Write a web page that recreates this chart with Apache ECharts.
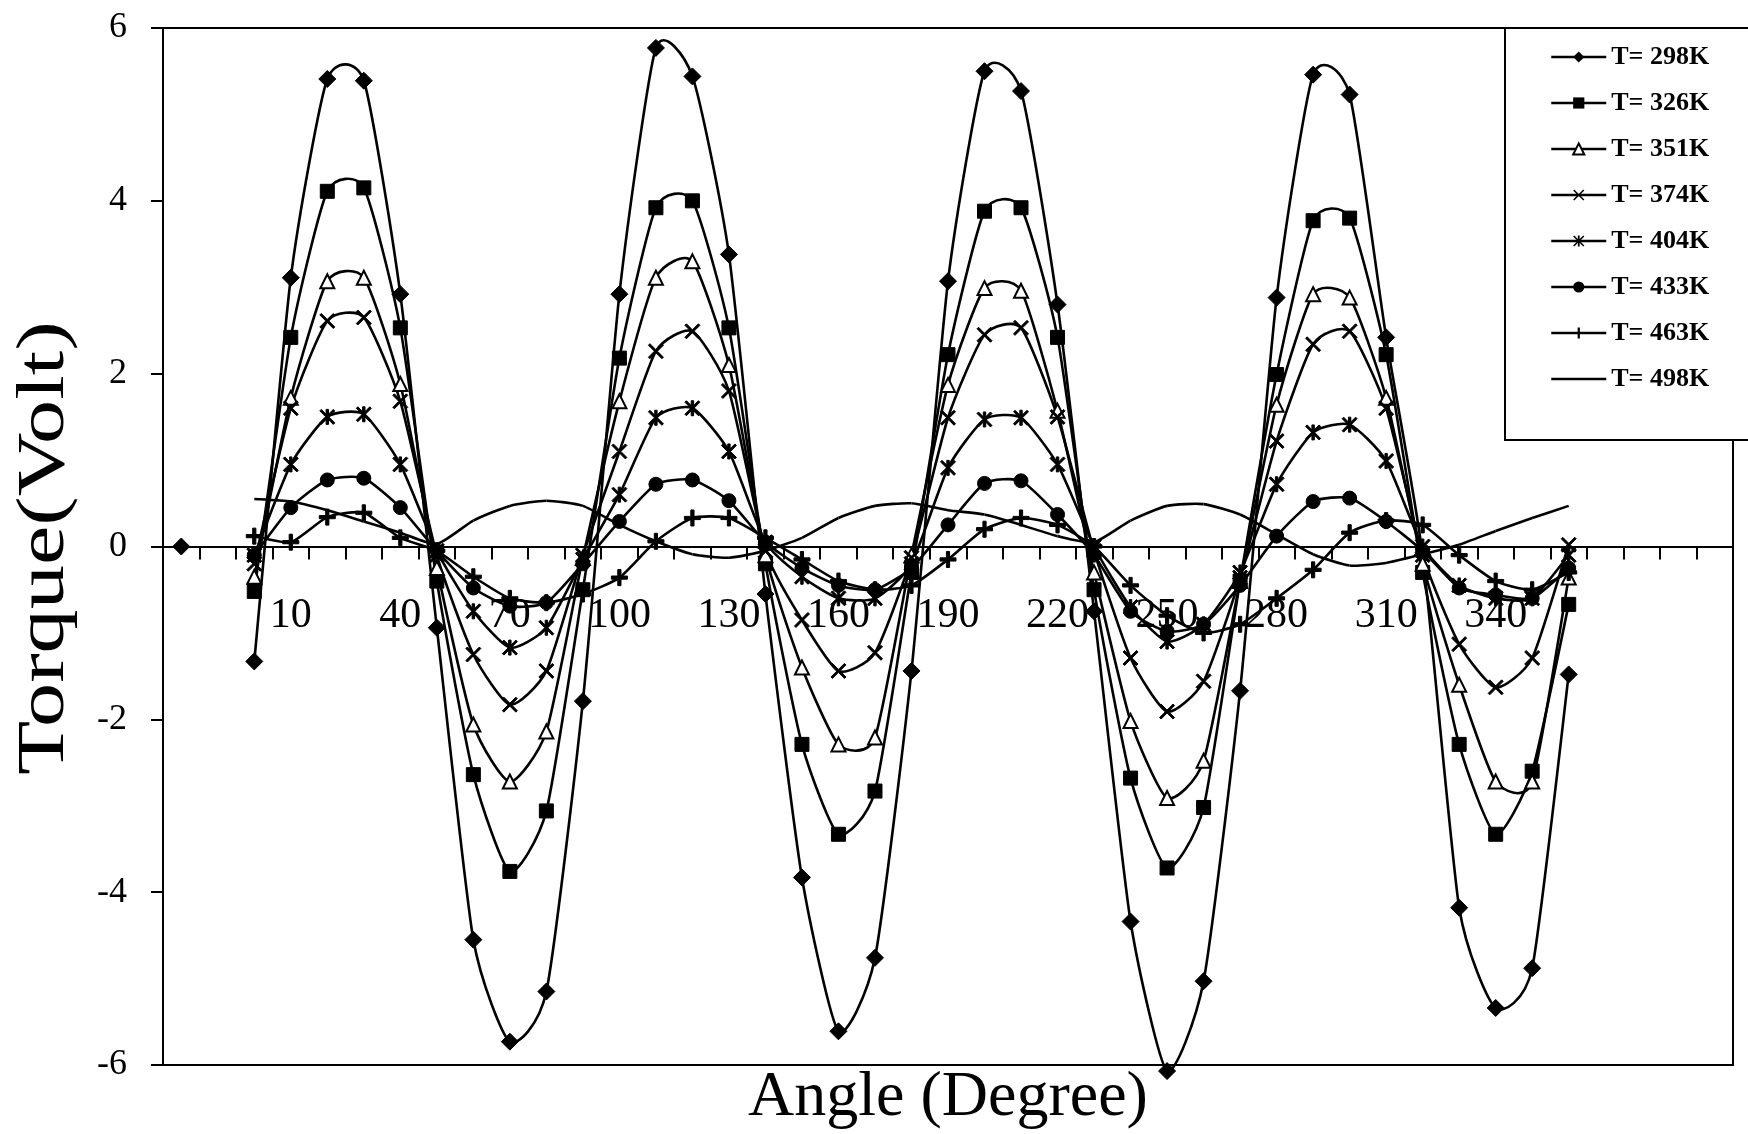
<!DOCTYPE html>
<html>
<head>
<meta charset="utf-8" />
<script src="https://cdn.jsdelivr.net/npm/echarts@6/dist/echarts.min.js"></script>
<title>Torque vs Angle</title>
<style>
  html, body { margin: 0; padding: 0; background: #fff; }
  #main { width: 1748px; height: 1134px; }
</style>
</head>
<body>
<div id="main"></div>
<script>
// angles (degree), one point every 10 deg
var angles = [0, 10, 20, 30, 40, 50, 60, 70, 80, 90, 100, 110, 120, 130, 140, 150, 160, 170, 180,
              190, 200, 210, 220, 230, 240, 250, 260, 270, 280, 290, 300, 310, 320, 330, 340, 350, 360];

var T298 = [-1.33, 3.11, 5.41, 5.39, 2.92, -0.94, -4.55, -5.73, -5.15, -1.79, 2.92, 5.77, 5.44, 3.38, -0.55,
            -3.83, -5.61, -4.76, -1.44, 3.07, 5.5, 5.27, 2.8, -0.75, -4.34, -6.07, -5.03, -1.67, 2.88,
            5.46, 5.23, 2.42, -0.1, -4.18, -5.34, -4.88, -1.48];
var T326 = [-0.52, 2.42, 4.11, 4.15, 2.53, -0.4, -2.64, -3.76, -3.06, -0.5, 2.18, 3.92, 4.0, 2.53, -0.2,
            -2.29, -3.33, -2.83, -0.3, 2.22, 3.88, 3.92, 2.42, -0.5, -2.68, -3.72, -3.02, -0.4, 1.99,
            3.77, 3.8, 2.22, -0.3, -2.29, -3.33, -2.6, -0.67];
var T351 = [-0.35, 1.72, 3.07, 3.11, 1.88, -0.25, -2.06, -2.72, -2.14, -0.13, 1.68, 3.11, 3.3, 2.1, -0.1,
            -1.4, -2.29, -2.21, -0.1, 1.87, 2.99, 2.96, 1.57, -0.3, -2.02, -2.91, -2.48, -0.4, 1.64,
            2.92, 2.88, 1.72, -0.2, -1.6, -2.72, -2.72, -0.36];
var T374 = [-0.2, 1.6, 2.61, 2.65, 1.68, -0.1, -1.25, -1.83, -1.44, -0.1, 1.1, 2.26, 2.49, 1.8, -0.05,
            -0.85, -1.44, -1.23, -0.13, 1.49, 2.45, 2.53, 1.5, -0.05, -1.29, -1.91, -1.56, -0.36, 1.22,
            2.34, 2.49, 1.6, -0.1, -1.13, -1.63, -1.29, 0.02];
var T404 = [-0.1, 0.95, 1.5, 1.53, 0.95, -0.05, -0.75, -1.17, -0.94, -0.15, 0.6, 1.49, 1.6, 1.1, 0.05,
            -0.35, -0.6, -0.6, -0.2, 0.91, 1.47, 1.49, 0.95, 0.0, -0.7, -1.1, -0.9, -0.3, 0.72,
            1.32, 1.41, 0.99, 0.0, -0.45, -0.6, -0.6, -0.1];
var T433 = [-0.1, 0.45, 0.77, 0.79, 0.45, -0.05, -0.48, -0.69, -0.65, -0.2, 0.29, 0.72, 0.77, 0.53, 0.05,
            -0.25, -0.45, -0.5, -0.25, 0.25, 0.73, 0.76, 0.37, -0.1, -0.75, -0.98, -0.9, -0.45, 0.12,
            0.52, 0.56, 0.29, -0.05, -0.48, -0.56, -0.6, -0.25];
var T463 = [0.12, 0.05, 0.34, 0.39, 0.1, -0.05, -0.35, -0.6, -0.65, -0.55, -0.36, 0.06, 0.33, 0.33, 0.1,
            -0.15, -0.4, -0.5, -0.45, -0.15, 0.2, 0.33, 0.25, 0.0, -0.45, -0.8, -1.0, -0.9, -0.6,
            -0.27, 0.16, 0.3, 0.25, -0.1, -0.4, -0.5, -0.3];
var T498 = [0.55, 0.52, 0.42, 0.29, 0.16, 0.03, 0.3, 0.47, 0.53, 0.47, 0.25, 0.06, -0.09, -0.13, -0.05,
            0.1, 0.33, 0.47, 0.5, 0.42, 0.37, 0.25, 0.12, 0.05, 0.3, 0.47, 0.49, 0.37, 0.14,
            -0.09, -0.22, -0.19, -0.09, 0.02, 0.18, 0.33, 0.47];

// stray point drawn in the first (blank) category
var T298_lead = [0, null];

var names = ['T= 298K', 'T= 326K', 'T= 351K', 'T= 374K', 'T= 404K', 'T= 433K', 'T= 463K', 'T= 498K'];

// category axis: 2 blank slots before 0 deg, 4 blank slots after 360 deg
var cats = ['', ''];
for (var i = 0; i < angles.length; i++) cats.push(String(angles[i]));
cats.push('', '', '', '');

function pad(lead, arr) {
    return lead.concat(arr);
}
// [categoryIndex, value] pairs for the curve series
function pairs(arr) {
    var out = [];
    for (var k = 0; k < arr.length; k++) out.push([k, arr[k]]);
    return out;
}

var SERIF = 'Liberation Serif';
var PLUS = 'path://M4,0L6,0L6,4L10,4L10,6L6,6L6,10L4,10L4,6L0,6L0,4L4,4Z';
var CROSS = 'path://M1,0L5,4L9,0L10,1L6,5L10,9L9,10L5,6L1,10L0,9L4,5L0,1Z';
var STAR = 'path://M1,0L5,4L9,0L10,1L6,5L10,9L9,10L5,6L1,10L0,9L4,5L0,1Z M4.2,0L5.8,0L5.8,10L4.2,10Z';
var TENSION = 0.1;

// excel-like smoothed segment between point i and i+1 (may overshoot like the original)
function curveItem(params, api) {
    var i = params.dataIndexInside, n = params.dataInsideLength;
    function pt(j) {
        if (j < 0 || j >= n) return null;
        var v = api.value(1, j);
        if (v === null || v === '-' || isNaN(v)) return null;
        return api.coord([api.value(0, j), v]);
    }
    var p1 = pt(i), p2 = pt(i + 1);
    if (!p1 || !p2) return;
    var p0 = pt(i - 1) || p1, p3 = pt(i + 2) || p2;
    return {
        type: 'bezierCurve',
        shape: {
            x1: p1[0], y1: p1[1], x2: p2[0], y2: p2[1],
            cpx1: p1[0] + (p2[0] - p0[0]) * TENSION, cpy1: p1[1] + (p2[1] - p0[1]) * TENSION,
            cpx2: p2[0] - (p3[0] - p1[0]) * TENSION, cpy2: p2[1] - (p3[1] - p1[1]) * TENSION
        },
        style: { stroke: '#000', lineWidth: 2.6, fill: 'none' }
    };
}

function curve(name, data) {
    return {
        name: name + ' curve',
        type: 'custom',
        renderItem: curveItem,
        data: pairs(data),
        encode: { x: 0, y: 1 },
        clip: false,
        silent: true,
        z: 2
    };
}

function marks(name, data, symbol, size) {
    return {
        name: name,
        type: 'line',
        data: data,
        symbol: symbol,
        symbolSize: size,
        showAllSymbol: true,
        connectNulls: false,
        clip: false,
        lineStyle: { width: 0, opacity: 0 },
        itemStyle: { color: '#000', borderColor: '#000' },
        emphasis: { disabled: true },
        z: 3
    };
}

var legendData = [];
for (var k = 0; k < names.length; k++) legendData.push({ name: names[k] });
legendData[7].itemStyle = { color: 'rgba(0,0,0,0)', borderColor: 'rgba(0,0,0,0)' };

var sets = [
    [names[0], pad(T298_lead, T298), 'diamond', 17],
    [names[1], pad([null, null], T326), 'rect', 14],
    [names[2], pad([null, null], T351), 'emptyTriangle', 14],
    [names[3], pad([null, null], T374), CROSS, 15],
    [names[4], pad([null, null], T404), STAR, 15],
    [names[5], pad([null, null], T433), 'circle', 14],
    [names[6], pad([null, null], T463), PLUS, 16],
    [names[7], pad([null, null], T498), 'none', 1]
];
var series = [];
for (var s = 0; s < sets.length; s++) {
    series.push(marks(sets[s][0], sets[s][1], sets[s][2], sets[s][3]));
    series.push(curve(sets[s][0], sets[s][1]));
}

var myChart = echarts.init(document.getElementById('main'));
var option = {
    backgroundColor: '#fff',
    animation: false,
    grid: {
        left: 163, right: 15, top: 28, bottom: 69,
        outerBoundsMode: 'none',
        show: true, borderColor: '#000', borderWidth: 2, backgroundColor: 'transparent'
    },
    legend: {
        orient: 'vertical',
        left: 1505, top: 28,
        padding: [16, 40, 48, 45],
        itemWidth: 55, itemHeight: 14, itemGap: 20,
        backgroundColor: '#fff', borderColor: '#000', borderWidth: 2,
        lineStyle: { color: '#000', width: 2.5, opacity: 1 },
        textStyle: { fontFamily: SERIF, fontSize: 26, lineHeight: 26, fontWeight: 'bold', color: '#000' },
        data: legendData,
        z: 10
    },
    xAxis: {
        type: 'category',
        data: cats,
        boundaryGap: true,
        position: 'bottom',
        offset: -518.5,
        axisLine: { onZero: false, lineStyle: { color: '#000', width: 2 } },
        axisTick: { show: true, interval: 0, length: 13, lineStyle: { color: '#000', width: 2 } },
        axisLabel: { interval: 2, margin: 48, fontFamily: SERIF, fontSize: 42, color: '#000' },
        splitLine: { show: false }
    },
    yAxis: {
        type: 'value',
        min: -6, max: 6, interval: 2,
        axisLine: { show: true, onZero: false, lineStyle: { color: '#000', width: 2 } },
        axisTick: { show: true, length: 12, lineStyle: { color: '#000', width: 2 } },
        axisLabel: { margin: 36, fontFamily: SERIF, fontSize: 36, color: '#000' },
        splitLine: { show: false }
    },
    graphic: [
        {
            type: 'text', x: 45, y: 548, rotation: Math.PI / 2, scaleX: 1.3,
            style: { text: 'Torque(Volt)', font: '68px "Liberation Serif"', fill: '#000',
                     align: 'center', verticalAlign: 'middle' }
        },
        {
            type: 'text', x: 948, y: 1098,
            style: { text: 'Angle (Degree)', font: '64px "Liberation Serif"', fill: '#000',
                     align: 'center', verticalAlign: 'middle' }
        }
    ],
    series: series
};
myChart.setOption(option);
</script>
</body>
</html>
